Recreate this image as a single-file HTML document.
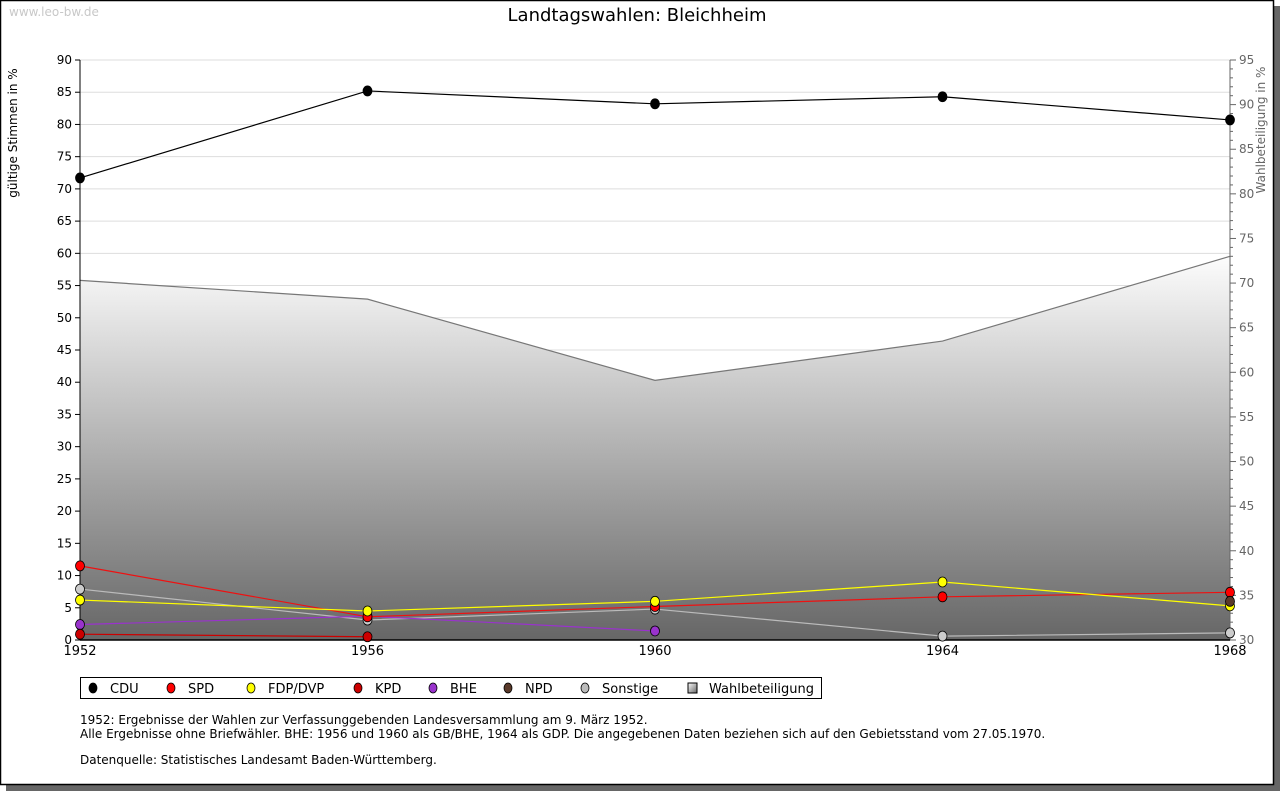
<!DOCTYPE html>
<html><head><meta charset="utf-8"><style>
html,body{margin:0;padding:0;background:#fff;}
body{width:1280px;height:791px;overflow:hidden;position:relative;font-family:"DejaVu Sans","Liberation Sans",sans-serif;}
</style></head><body>
<svg id="chart" width="1280" height="791" xmlns="http://www.w3.org/2000/svg" style="position:absolute;left:0;top:0">
<defs>
<linearGradient id="wbg" x1="0" y1="250" x2="0" y2="640" gradientUnits="userSpaceOnUse">
<stop offset="0" stop-color="#ffffff"/><stop offset="1" stop-color="#666666"/>
</linearGradient>
<linearGradient id="lg" x1="0" y1="0" x2="1" y2="1"><stop offset="0" stop-color="#fff"/><stop offset="1" stop-color="#666"/></linearGradient>
</defs>
<rect x="6" y="6" width="1274" height="785" fill="#666"/>
<rect x="0.5" y="0.5" width="1273" height="784" fill="#fff" stroke="#000" stroke-width="1.5"/>
<text x="9" y="16" font-size="12" fill="#c8c8c8">www.leo-bw.de</text>
<text x="637" y="21" font-size="18" text-anchor="middle" fill="#000">Landtagswahlen: Bleichheim</text>
<g id="grid"></g>
<g id="area"></g>
<g id="axes"></g>
<g id="series"></g>
<text transform="translate(17,133) rotate(-90)" font-size="12" text-anchor="middle">gültige Stimmen in %</text>
<text transform="translate(1265,130) rotate(-90)" font-size="12" text-anchor="middle" fill="#666">Wahlbeteiligung in %</text>
<g>
<rect x="80.5" y="677.5" width="741" height="21" fill="#fff" stroke="#000"/>
<g id="legend"></g>
</g>
<g font-size="12" fill="#000">
<text x="80" y="724">1952: Ergebnisse der Wahlen zur Verfassunggebenden Landesversammlung am 9. März 1952.</text>
<text x="80" y="738">Alle Ergebnisse ohne Briefwähler. BHE: 1956 und 1960 als GB/BHE, 1964 als GDP. Die angegebenen Daten beziehen sich auf den Gebietsstand vom 27.05.1970.</text>
<text x="80" y="764">Datenquelle: Statistisches Landesamt Baden-Württemberg.</text>
</g>
</svg>
<script>
const years=[1952,1956,1960,1964,1968];
const cdu=[71.7,85.2,83.2,84.3,80.7];
const spd=[11.5,3.6,5.2,6.7,7.4];
const fdp=[6.2,4.5,6.0,9.0,5.3];
const kpd=[0.9,0.5,null,null,null];
const bhe=[2.4,3.7,1.4,null,null];
const npd=[null,null,null,null,6.0];
const sonstige=[7.9,3.1,4.8,0.6,1.1];
const turnout=[70.3,68.2,59.1,63.5,73.0];
const leftTicks=[0,5,10,15,20,25,30,35,40,45,50,55,60,65,70,75,80,85,90];
const rightTicks=[30,35,40,45,50,55,60,65,70,75,80,85,90,95];

const NS="http://www.w3.org/2000/svg";
const X0=80,X1=1230,Y0=640,Y1=60;
const xs=y=>X0+(y-1952)/(1968-1952)*(X1-X0);
const ys=v=>Y0-v/90*(Y0-Y1);
const y2=v=>Y0-(v-30)/65*(Y0-Y1);
function mk(tag,attrs,parent){const e=document.createElementNS(NS,tag);for(const k in attrs)e.setAttribute(k,attrs[k]);parent.appendChild(e);return e;}
const grid=document.getElementById('grid'),axes=document.getElementById('axes'),area=document.getElementById('area'),ser=document.getElementById('series');
leftTicks.forEach(t=>{
  const y=ys(t);
  if(t>0){const g=mk('line',{x1:X0,x2:X1,y1:y,y2:y,stroke:'#ddd'},grid);}
  mk('line',{x1:X0-5,x2:X0,y1:y,y2:y,stroke:'#000'},axes);
  const tx=mk('text',{x:X0-8,y:y+4,'font-size':12,'text-anchor':'end'},axes);tx.textContent=t;
  
  
});
for(let v=30;v<=95;v++){const y=y2(v);mk('line',{x1:X1,x2:X1+(v%5?3:6),y1:y,y2:y,stroke:'#666'},axes);}
rightTicks.forEach(t=>{const tx=mk('text',{x:X1+9,y:y2(t)+4,'font-size':12,fill:'#666'},axes);tx.textContent=t;
  
  });
let d='M'+xs(years[0])+','+Y0;
years.forEach((yr,i)=>{d+=' L'+xs(yr)+','+y2(turnout[i]);});
d+=' L'+xs(years[years.length-1])+','+Y0+' Z';
const ar=mk('path',{d:d,fill:'url(#wbg)'},area);


const al=mk('polyline',{points:years.map((yr,i)=>xs(yr)+','+y2(turnout[i])).join(' '),fill:'none',stroke:'#777','stroke-width':1.2},area);


mk('line',{x1:X0,x2:X0,y1:Y1,y2:Y0,stroke:'#000'},axes);
mk('line',{x1:X1,x2:X1,y1:Y1,y2:Y0,stroke:'#666'},axes);
mk('line',{x1:X0,x2:X1,y1:Y0,y2:Y0,stroke:'#000','stroke-width':1.5},axes);
years.forEach(yr=>{const tx=mk('text',{x:xs(yr),y:Y0+15,'font-size':13,'text-anchor':'middle'},axes);tx.textContent=yr;
  
  });
const series=[
 ['cdu',cdu,'#000','#000'],['sonstige',sonstige,'#ccc','#bbb'],['bhe',bhe,'#9933cc','#9933cc'],
 ['kpd',kpd,'#cc0000','#cc0000'],['spd',spd,'#ff0000','#ee1111'],['fdp',fdp,'#ffff00','#ffff00'],['npd',npd,'#5a3a2a','#5a3a2a']];
series.forEach(([name,vals,fill,line])=>{
  const g=mk('g',{},ser);
  
  
  const pts=[];vals.forEach((v,i)=>{if(v!==null)pts.push(xs(years[i])+','+ys(v));});
  if(pts.length>1)mk('polyline',{points:pts.join(' '),fill:'none',stroke:line,'stroke-width':1.2},g);
  vals.forEach((v,i)=>{if(v===null)return;const cx=xs(years[i]),cy=ys(v);
    const p=mk('ellipse',{cx:cx,cy:cy,rx:4.5,ry:5,fill:fill,stroke:'#000','stroke-width':0.8},g);
    
    });
});
const leg=document.getElementById('legend');
const items=[['CDU','#000',93],['SPD','#ff0000',171],['FDP/DVP','#ffff00',251],['KPD','#cc0000',358],['BHE','#9933cc',433],['NPD','#5a3a2a',508],['Sonstige','#bbb',585],['Wahlbeteiligung',null,692]];
items.forEach(([lab,c,x])=>{
  const g=mk('g',{},leg);
  
  
  if(c)mk('ellipse',{cx:x,cy:688,rx:4,ry:5,fill:c,stroke:'#000','stroke-width':0.8},g);
  else mk('rect',{x:x-4,y:683,width:9,height:10,fill:'url(#lg)',stroke:'#000'},g);
  const t=mk('text',{x:x+17,y:693,'font-size':13},g);t.textContent=lab;
});
</script>
</body></html>
